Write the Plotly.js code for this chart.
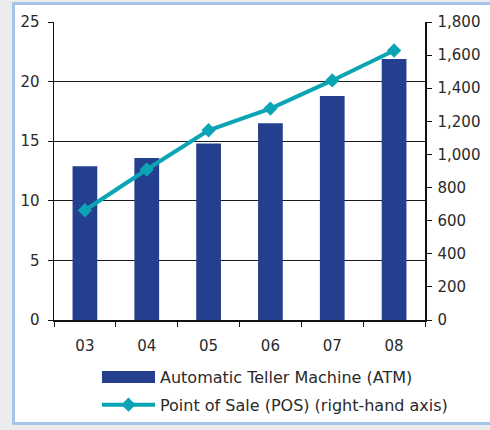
<!DOCTYPE html>
<html>
<head>
<meta charset="utf-8">
<script src="https://cdn.plot.ly/plotly-3.0.1.min.js"></script>
<style>
  html, body { margin: 0; padding: 0; background: #ececec; }
  #frame {
    position: absolute; left: 12px; top: 2px; width: 500px; height: 417px;
    background: #ffffff; border: 3px solid #a6c4e8; border-right: none;
  }
  #chart { position: absolute; left: 0; top: 0; width: 490px; height: 430px; }
</style>
</head>
<body>
<div id="frame"></div>
<div id="chart"></div>
<script>
// Years (20xx) on the category axis
const years = ['03', '04', '05', '06', '07', '08'];
// Number of ATMs (left axis)
const atmValues = [12.9, 13.6, 14.8, 16.5, 18.8, 21.9];
// Point-of-sale terminals (right axis)
const posValues = [663, 909, 1146, 1277, 1447, 1628];
// Axis ticks
const leftTicks = [0, 5, 10, 15, 20, 25];
const rightTicks = [0, 200, 400, 600, 800, 1000, 1200, 1400, 1600, 1800];

const FONT = 'DejaVu Sans, sans-serif';
const TXT = '#2a2a2a';

const traces = [
  {
    type: 'bar', name: 'Automatic Teller Machine (ATM)',
    x: years, y: atmValues, width: 0.4,
    marker: { color: '#253f8f' },
    legendgroup: 'a', hoverinfo: 'skip'
  },
  {
    type: 'scatter', mode: 'lines+markers', name: 'Point of Sale (POS) (right-hand axis)',
    x: years, y: posValues, yaxis: 'y2',
    line: { color: '#0aa4b4', width: 4 },
    marker: { symbol: 'diamond', size: 11, color: '#0aa4b4' },
    legendgroup: 'b', hoverinfo: 'skip'
  }
];

const layout = {
  width: 490, height: 430,
  margin: { l: 54, r: 65, t: 22, b: 110 },
  paper_bgcolor: 'rgba(0,0,0,0)',
  plot_bgcolor: '#ffffff',
  font: { family: FONT, size: 15, color: TXT },
  showlegend: true,
  legend: {
    orientation: 'v', xref: 'paper', x: 0.1159, yref: 'container', y: 0.1628,
    xanchor: 'left', yanchor: 'top',
    itemwidth: 53, traceorder: 'grouped', tracegroupgap: 4,
    bgcolor: 'rgba(0,0,0,0)', font: { family: FONT, size: 16, color: TXT }
  },
  xaxis: {
    type: 'category', range: [-0.5, 5.5],
    tickson: 'boundaries', ticks: 'outside', ticklen: 5, tickcolor: '#111', tickwidth: 1,
    showline: true, linecolor: '#111', linewidth: 2,
    showgrid: false, ticklabelstandoff: 11,
    tickfont: { family: FONT, size: 15, color: TXT }
  },
  xaxis2: {
    overlaying: 'x', anchor: 'y', range: [-0.5, 5.5],
    tick0: -0.5, dtick: 1, ticks: 'inside', ticklen: 4, tickcolor: '#111', tickwidth: 1,
    showticklabels: false, showline: false, showgrid: false, zeroline: false
  },
  yaxis: {
    range: [0, 25], tickvals: leftTicks, ticks: 'outside', ticklen: 5, tickcolor: '#111',
    showline: true, linecolor: '#111', linewidth: 1.5,
    showgrid: true, gridcolor: '#1a1a1a', gridwidth: 1, zeroline: false,
    ticklabelstandoff: 5,
    tickfont: { family: FONT, size: 15, color: TXT }
  },
  yaxis2: {
    overlaying: 'y', side: 'right', anchor: 'x', range: [0, 1800], tickvals: rightTicks,
    tickformat: ',d', ticks: 'outside', ticklen: 5, tickcolor: '#111',
    showline: true, linecolor: '#111', linewidth: 1.5,
    showgrid: false, zeroline: false, ticklabelstandoff: 3,
    tickfont: { family: FONT, size: 15, color: TXT }
  },
  yaxis3: {
    overlaying: 'y', side: 'right', anchor: 'x', range: [0, 1800], tickvals: rightTicks,
    ticks: 'inside', ticklen: 5, tickcolor: '#111',
    showticklabels: false, showline: false, showgrid: false, zeroline: false
  }
};

Plotly.newPlot('chart', traces, layout, { displayModeBar: false, staticPlot: true })
  .then(function (gd) {
    // Wide rectangular key for the bar series
    const items = gd.querySelectorAll('.legend .traces');
    if (items.length) {
      items[0].querySelectorAll('.legendpoints path').forEach(function (p) {
        p.setAttribute('d', 'M26.5,6H-26.5V-6H26.5Z');
      });
    }
  });
</script>
</body>
</html>
